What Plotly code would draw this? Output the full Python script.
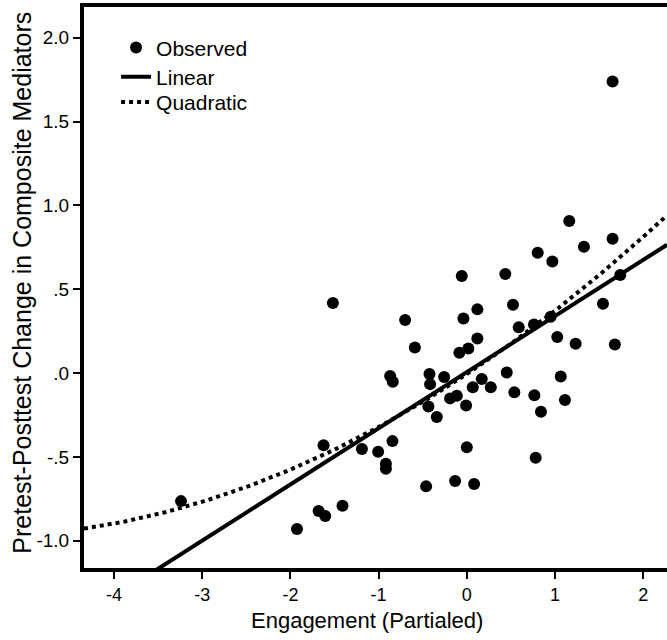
import numpy as np
import plotly.graph_objects as go

# Observed points (Engagement partialed, change in composite mediators)
engagement = [-3.24, -1.925, -1.68, -1.605, -1.409, -1.624, -1.518, -1.189, -1.005, -0.843,
              -0.917, -0.917, -0.869, -0.839, -0.699, -0.589, -0.461, -0.435, -0.34, -0.423,
              -0.416, -0.257, -0.189, -0.113, -0.132, -0.084, -0.057, -0.038, -0.008, 0.0,
              0.018, 0.068, 0.083, 0.12, 0.12, 0.170, 0.272, 0.437, 0.453, 0.524,
              0.539, 0.589, 0.762, 0.766, 0.781, 0.804, 0.841, 0.951, 0.970, 1.026,
              1.065, 1.113, 1.162, 1.234, 1.328, 1.544, 1.653, 1.653, 1.679, 1.740]
change = [-0.764, -0.931, -0.823, -0.853, -0.792, -0.431, 0.418, -0.453, -0.469, -0.406,
          -0.541, -0.571, -0.018, -0.052, 0.316, 0.153, -0.676, -0.199, -0.262, -0.006,
          -0.066, -0.024, -0.151, -0.135, -0.644, 0.121, 0.579, 0.326, -0.193, -0.442,
          0.147, -0.084, -0.662, 0.380, 0.206, -0.036, -0.085, 0.591, 0.004, 0.408,
          -0.115, 0.274, 0.290, -0.133, -0.505, 0.718, -0.231, 0.336, 0.666, 0.215,
          -0.020, -0.161, 0.907, 0.175, 0.754, 0.413, 1.740, 0.801, 0.171, 0.585]

# Fit coefficients (intercept, slope, quadratic term)
linear_coef = [0.005, 0.335]
quad_coef = [-0.006, 0.347, 0.031]

x_range = [-4.34, 2.27]
y_range = [-1.163, 2.184]

x_tick_vals = [-4, -3, -2, -1, 0, 1, 2]
x_tick_text = ["-4", "-3", "-2", "-1", "0", "1", "2"]
y_tick_vals = [2.0, 1.5, 1.0, 0.5, 0.0, -0.5, -1.0]
y_tick_text = ["2.0", "1.5", "1.0", ".5", ".0", "-.5", "-1.0"]

xs = np.linspace(x_range[0], x_range[1], 200)
lin_y = linear_coef[0] + linear_coef[1] * xs
quad_y = quad_coef[0] + quad_coef[1] * xs + quad_coef[2] * xs ** 2

FONT = "Liberation Sans, Arial, sans-serif"

fig = go.Figure()
fig.add_trace(go.Scatter(x=engagement, y=change, mode="markers", name="Observed",
                         legend="legend",
                         marker=dict(color="black", size=12, line=dict(width=0))))
fig.add_trace(go.Scatter(x=xs, y=lin_y, mode="lines", name="Linear",
                         legend="legend2",
                         line=dict(color="black", width=4)))
fig.add_trace(go.Scatter(x=xs, y=quad_y, mode="lines", name="Quadratic",
                         legend="legend3",
                         line=dict(color="black", width=4, dash="dot")))

leg_common = dict(x=0.055, xanchor="left", yanchor="middle",
                  bgcolor="rgba(0,0,0,0)", borderwidth=0,
                  font=dict(size=21, family=FONT, color="black"),
                  itemwidth=30)

fig.update_layout(
    width=667, height=640,
    margin=dict(l=84, r=0, t=7, b=72),
    paper_bgcolor="white", plot_bgcolor="white",
    font=dict(family=FONT, color="black", size=18),
    showlegend=True,
    legend=dict(y=0.927, **leg_common),
    legend2=dict(y=0.875, **leg_common),
    legend3=dict(y=0.830, **leg_common),
    xaxis=dict(range=x_range, showgrid=False, zeroline=False,
               showline=True, linecolor="black", linewidth=4, mirror=True,
               ticks="outside", ticklen=7, tickwidth=2, tickcolor="black",
               tickvals=x_tick_vals, ticktext=x_tick_text,
               tickfont=dict(size=18, family=FONT, color="black")),
    yaxis=dict(range=y_range, showgrid=False, zeroline=False,
               showline=True, linecolor="black", linewidth=4, mirror=False,
               ticks="outside", ticklen=7, tickwidth=2, tickcolor="black",
               tickvals=y_tick_vals, ticktext=y_tick_text,
               tickfont=dict(size=19, family=FONT, color="black")),
    annotations=[
        dict(text="Engagement (Partialed)", xref="paper", yref="paper",
             x=0.485, y=-0.093, xanchor="center", yanchor="middle",
             showarrow=False, font=dict(size=22, family=FONT, color="black")),
        dict(text="Pretest-Posttest Change in Composite Mediators", xref="paper", yref="paper",
             x=-0.107, y=0.508, xanchor="center", yanchor="middle", textangle=-90,
             showarrow=False, font=dict(size=25, family=FONT, color="black")),
    ],
)

fig.write_html("out.html",
               config={"displayModeBar": False},
               post_script="document.body.style.margin='0';document.body.style.overflow='hidden';")
